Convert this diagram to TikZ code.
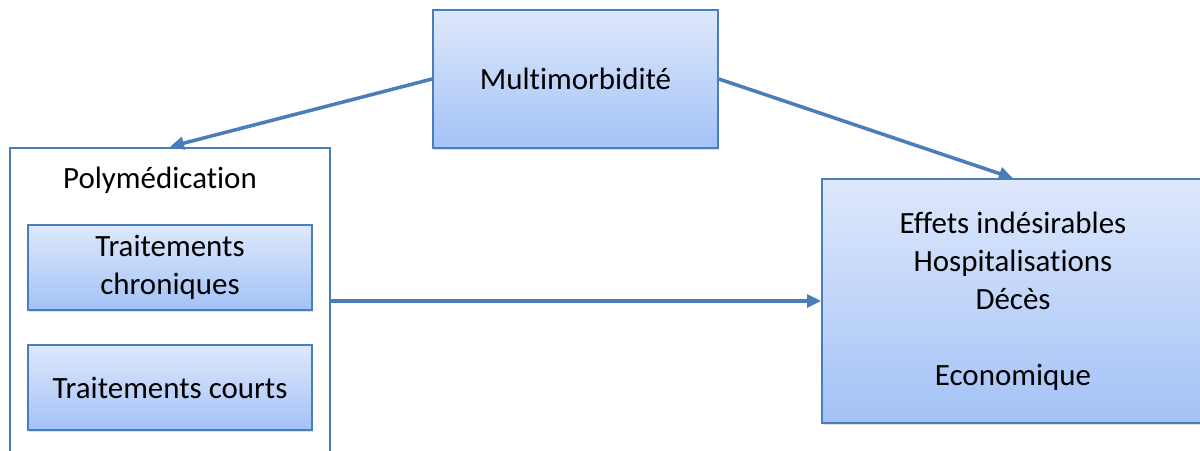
\documentclass[tikz,border=0pt]{standalone}
\usepackage{fontspec}
\setmainfont{Carlito}[Ligatures=NoCommon]
\usepackage{xcolor}
\usepackage{tikz}
\usetikzlibrary{positioning, arrows.meta, shadows}

\definecolor{boxline}{HTML}{4A7EBB}
\definecolor{boxtop}{HTML}{DEE8FC}
\definecolor{boxbottom}{HTML}{A3C2F6}

\begin{document}
\begin{tikzpicture}[x=0.025cm,y=-0.025cm]
	\tikzstyle{box}=[draw=boxline,line width=1.2pt,top color=boxtop,bottom color=boxbottom,drop shadow={opacity=0.25,shadow xshift=1pt,shadow yshift=-1.5pt},inner sep=0pt,align=center,font=\fontsize{22}{27}\selectfont]
	\tikzstyle{arrow}=[-{Triangle[length=10pt,width=9pt]},draw=boxline,line width=2.5pt]
	\clip (0,0) rectangle (1200,451);
	\fill[white] (0,0) rectangle (1200,451);
	\node[box,minimum width=7.125cm,minimum height=3.45cm](m) at (575.5,79) {Multimorbidité};
	\node[draw=boxline,line width=1.8pt,fill=white,minimum width=8cm,minimum height=7.65cm](p) at (170,301) {};
	\node[font=\fontsize{22}{27}\selectfont](pl) at (160,180) {Polymédication};
	\node[box,minimum width=7.1cm,minimum height=2.125cm](tc) at (170,267.5) {Traitements\\chroniques};
	\node[box,minimum width=7.1cm,minimum height=2.125cm](tk) at (170,387.5) {Traitements courts};
	\node[box,minimum width=9.55cm,minimum height=6.1cm](e) at (1013,301) {Effets indésirables\\Hospitalisations\\Décès\\[27pt]Economique};
	\draw[arrow](m.west) -- (p.north);
	\draw[arrow](m.east) -- (e.north);
	\draw[arrow](p.east) -- (p.east -| e.west);
\end{tikzpicture}
\end{document}
